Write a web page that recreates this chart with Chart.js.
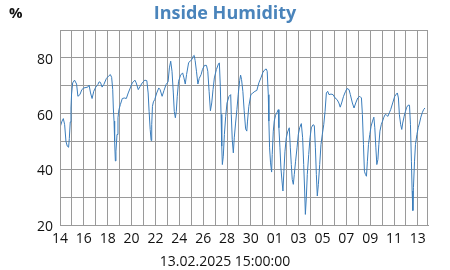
<!DOCTYPE html>
<html>
<head>
<meta charset="utf-8">
<script src="https://cdn.jsdelivr.net/npm/chart.js@4/dist/chart.umd.min.js"></script>
<style>
  html, body { margin: 0; padding: 0; background: #fff; }
  #wrap { width: 450px; height: 270px; position: relative; }
</style>
</head>
<body>
<div id="wrap"><canvas id="hum"></canvas></div>
<script>
// Inside humidity, 14.01.2025 .. 13.02.2025. x = days since 14.01 00:00.
const TITLE = 'Inside Humidity';
const UNIT = '%';
const STAMP = '13.02.2025 15:00:00';

// day-of-month label for each whole day on the axis (0 = 14 Jan)
const dayLabels = ['14', '15', '16', '17', '18', '19', '20', '21', '22', '23', '24', '25', '26', '27', '28', '29', '30', '31',
  '01', '02', '03', '04', '05', '06', '07', '08', '09', '10', '11', '12', '13'];
const yLabels = [20, 40, 60, 80];

const days = [
  0.00, 0.17, 0.28, 0.39, 0.50, 0.61, 0.72, 0.78, 0.86, 0.92, 0.97, 1.06, 1.22, 1.39, 1.50, 1.67, 1.83, 2.00,
  2.33, 2.44, 2.56, 2.69, 2.83, 3.00, 3.17, 3.28, 3.39, 3.53, 3.67, 3.89, 4.06, 4.22, 4.33, 4.42, 4.47, 4.53,
  4.58, 4.64, 4.69, 4.78, 4.86, 4.94, 5.06, 5.22, 5.39, 5.56, 5.72, 5.89, 6.06, 6.28, 6.39, 6.56, 6.72, 6.89,
  7.11, 7.28, 7.39, 7.47, 7.56, 7.64, 7.69, 7.75, 7.83, 7.94, 8.11, 8.28, 8.39, 8.56, 8.72, 8.89, 9.06, 9.17,
  9.28, 9.39, 9.50, 9.58, 9.67, 9.75, 9.83, 9.94, 10.11, 10.28, 10.39, 10.50, 10.61, 10.78, 10.94, 11.06, 11.17,
  11.25, 11.33, 11.44, 11.56, 11.67, 11.83, 11.94, 12.11, 12.28, 12.39, 12.50, 12.61, 12.72, 12.83, 12.94, 13.11,
  13.28, 13.36, 13.44, 13.50, 13.56, 13.61, 13.69, 13.78, 13.89, 14.00, 14.17, 14.31, 14.36, 14.44, 14.53, 14.61,
  14.72, 14.83, 14.94, 15.06, 15.14, 15.22, 15.33, 15.44, 15.56, 15.66, 15.72, 15.83, 16.00, 16.17, 16.34, 16.50,
  16.67, 16.84, 17.01, 17.18, 17.29, 17.37, 17.46, 17.51, 17.57, 17.65, 17.74, 17.79, 17.88, 17.96, 18.07, 18.18,
  18.30, 18.35, 18.44, 18.52, 18.61, 18.69, 18.77, 18.86, 18.97, 19.08, 19.22, 19.31, 19.39, 19.47, 19.56, 19.64,
  19.75, 19.87, 19.98, 20.09, 20.23, 20.34, 20.43, 20.51, 20.57, 20.65, 20.73, 20.85, 20.96, 21.07, 21.21, 21.32,
  21.41, 21.49, 21.57, 21.66, 21.77, 21.88, 21.99, 22.11, 22.22, 22.33, 22.44, 22.55, 22.72, 22.89, 23.06, 23.23,
  23.38, 23.49, 23.61, 23.77, 23.94, 24.06, 24.23, 24.34, 24.51, 24.65, 24.79, 24.96, 25.13, 25.27, 25.35, 25.44,
  25.52, 25.61, 25.69, 25.77, 25.86, 25.97, 26.08, 26.20, 26.31, 26.39, 26.48, 26.56, 26.65, 26.73, 26.82, 26.93,
  27.04, 27.15, 27.27, 27.38, 27.49, 27.61, 27.72, 27.89, 28.06, 28.20, 28.28, 28.37, 28.45, 28.56, 28.65, 28.73,
  28.85, 28.96, 29.07, 29.18, 29.30, 29.38, 29.46, 29.52, 29.58, 29.63, 29.72, 29.80, 29.92, 30.03, 30.14, 30.25,
  30.37, 30.48, 30.59
];
const humidity = [
  55.0, 57.3, 58.2, 56.0, 50.0, 48.3, 47.9, 51.0, 57.0, 62.0, 67.0, 71.0, 72.0, 70.6, 66.2, 66.8, 68.6, 69.2,
  69.5, 70.2, 67.4, 65.4, 68.0, 69.5, 70.4, 71.4, 71.2, 69.5, 70.4, 72.6, 73.4, 74.0, 73.0, 68.6, 62.0, 57.3,
  50.1, 43.0, 46.5, 52.5, 58.5, 61.4, 63.2, 65.4, 65.6, 65.4, 67.4, 69.2, 71.0, 72.0, 71.0, 68.6, 69.8, 71.0,
  72.0, 71.8, 67.4, 60.8, 54.3, 50.3, 56.0, 62.6, 64.2, 65.0, 67.4, 69.2, 68.6, 66.2, 68.3, 70.4, 71.4, 76.4,
  78.8, 75.2, 67.4, 60.8, 58.5, 60.8, 66.2, 71.6, 73.8, 74.6, 72.8, 70.6, 74.0, 78.2, 79.0, 79.4, 80.6,
  80.9, 79.0, 75.2, 70.6, 72.6, 74.0, 75.8, 77.3, 77.3, 75.2, 68.0, 61.0, 63.8, 68.6, 72.8, 75.8,
  77.8, 78.2, 69.8, 59.7, 48.3, 41.7, 44.7, 52.5, 59.0, 63.8, 66.2, 66.8, 59.7, 50.6, 45.9, 51.3,
  56.6, 61.4, 66.8, 71.8, 73.8, 72.2, 68.0, 61.0, 54.5, 53.7, 57.3, 62.6, 66.8, 67.4, 68.0, 68.3,
  71.0, 72.8, 74.8, 75.8, 76.0, 75.2, 66.8, 57.3, 47.7, 42.3, 39.0, 45.3, 53.7, 57.3, 59.4, 60.3,
  61.4, 54.9, 47.7, 40.5, 35.8, 32.2, 39.3, 46.5, 51.3, 53.4, 54.9, 47.7, 41.7, 36.3, 34.6, 38.1,
  42.9, 47.7, 52.5, 54.9, 56.4, 51.3, 41.7, 32.2, 23.8, 29.8, 38.1, 45.3, 51.3, 54.9, 56.0, 55.7,
  47.7, 38.1, 30.4, 34.6, 41.7, 48.9, 52.5, 56.0, 60.8, 67.4, 68.0, 66.8, 67.0, 66.8, 65.6, 65.0,
  63.8, 62.3, 63.8, 66.2, 68.0, 69.0, 68.6, 66.8, 63.8, 62.0, 63.8, 65.6, 66.2, 65.6, 59.7, 48.9,
  39.3, 38.1, 37.5, 42.9, 48.9, 52.5, 55.5, 57.3, 58.7, 54.9, 47.7, 41.7, 43.5, 48.9, 53.7, 56.0,
  57.3, 58.7, 59.7, 59.4, 59.0, 60.3, 61.4, 63.8, 66.2, 67.0, 67.4, 65.6, 59.7, 56.0, 54.3, 56.6,
  59.0, 60.8, 62.3, 63.0, 63.0, 56.0, 42.9, 32.2, 25.2, 33.4, 42.9, 48.9, 52.5, 54.9, 56.6, 58.7,
  60.3, 61.4, 62.0
];
const X_END = 30.85; // 13.02 ~16:00, right edge of the plot

const FONT = "'Open Sans', sans-serif";
const GRID = '#9a9a9a';

// frame round the plot, plus title, unit and timestamp placed on the canvas centre
const extras = {
  id: 'extras',
  afterDraw(chart) {
    const { ctx, chartArea: a, width } = chart;
    ctx.save();
    ctx.strokeStyle = GRID;
    ctx.lineWidth = 1;
    ctx.strokeRect(a.left + 0.5, a.top + 0.5, a.right - a.left - 1, a.bottom - a.top);

    ctx.textBaseline = 'middle';
    ctx.fillStyle = '#111';
    ctx.font = `bold 15px ${FONT}`;
    ctx.textAlign = 'left';
    ctx.fillText(UNIT, 9, 14);

    ctx.textAlign = 'center';
    ctx.fillStyle = '#4a84bb';
    ctx.font = `bold 18px ${FONT}`;
    ctx.fillText(TITLE, width / 2, 14);

    ctx.fillStyle = '#111';
    ctx.font = `14px ${FONT}`;
    ctx.fillText(STAMP, width / 2, 262);
    ctx.restore();
  }
};

new Chart(document.getElementById('hum'), {
  type: 'line',
  data: {
    datasets: [{
      data: days.map((d, i) => ({ x: d, y: humidity[i] })),
      borderColor: '#3b7dbb',
      borderWidth: 1,
      pointRadius: 0,
      tension: 0,
      fill: false
    }]
  },
  options: {
    responsive: true,
    maintainAspectRatio: false,
    animation: false,
    events: [],
    layout: { padding: { left: 0, right: 22, top: 30, bottom: 0 } },
    plugins: {
      legend: { display: false },
      tooltip: { enabled: false },
      title: { display: false }
    },
    scales: {
      x: {
        type: 'linear',
        min: 0,
        max: X_END,
        afterFit: (s) => { s.height = 45; },
        grid: { color: GRID, drawTicks: false },
        border: { color: GRID },
        ticks: {
          stepSize: 1,
          includeBounds: false,
          autoSkip: false,
          maxRotation: 0,
          padding: 6,
          color: '#111',
          font: { family: FONT, size: 14 },
          callback: (v) => (Number.isInteger(v) && v % 2 === 0 ? dayLabels[v] : '')
        }
      },
      y: {
        min: 20,
        max: 90,
        afterFit: (s) => { s.width = 60; },
        grid: { color: GRID, drawTicks: false },
        border: { color: GRID },
        ticks: {
          stepSize: 10,
          padding: 7,
          labelOffset: 2,
          color: '#111',
          font: { family: FONT, size: 14 },
          callback: (v) => (yLabels.includes(v) ? String(v) : '')
        }
      }
    }
  },
  plugins: [extras]
});
</script>
</body>
</html>
